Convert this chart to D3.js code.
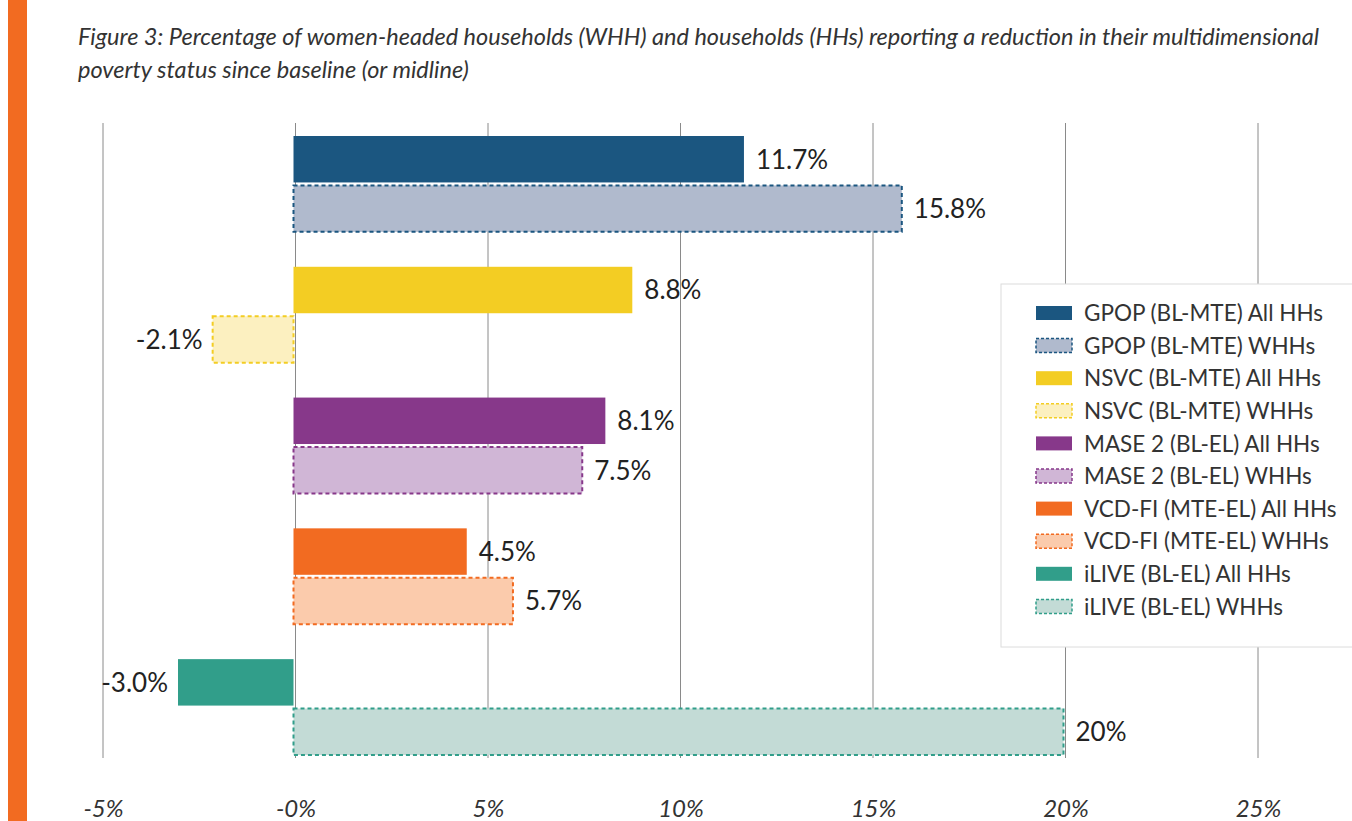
<!DOCTYPE html>
<html>
<head>
<meta charset="utf-8">
<script src="https://cdn.jsdelivr.net/npm/d3@7"></script>
<style>
  body { margin: 0; background: #fff; }
  svg { display: block; }
</style>
</head>
<body>
<svg id="vis" width="1352" height="821"></svg>
<script>
// data
const programmes = ["GPOP", "NSVC", "MASE 2", "VCD-FI", "iLIVE"];
const periods = ["(BL-MTE)", "(BL-MTE)", "(BL-EL)", "(MTE-EL)", "(BL-EL)"];
const allHHs = [11.7, 8.8, 8.1, 4.5, -3.0];
const whhs = [15.8, -2.1, 7.5, 5.7, 20];
const labelsAll = ["11.7%", "8.8%", "8.1%", "4.5%", "-3.0%"];
const labelsWhh = ["15.8%", "-2.1%", "7.5%", "5.7%", "20%"];
const darkColors = ["#1b5680", "#f3cd23", "#87388a", "#f26b21", "#319e8a"];
const lightColors = ["#b0bacd", "#fcf0c0", "#d0b6d6", "#fbcbac", "#c3dbd6"];
const ticks = [-5, 0, 5, 10, 15, 20, 25];

const svg = d3.select('#vis');
const font = "Lato, 'Open Sans', sans-serif";

// orange side strip
svg.append("rect")
    .attr("x", 8).attr("y", 0)
    .attr("width", 19).attr("height", 821)
    .attr("fill", "#f26b21");

// title
const title = svg.append("text")
    .attr("font-family", font)
    .attr("font-style", "italic")
    .attr("font-size", 23.5)
    .attr("fill", "#333");
title.append("tspan").attr("x", 78).attr("y", 45)
    .text("Figure 3: Percentage of women-headed households (WHH) and households (HHs) reporting a reduction in their multidimensional");
title.append("tspan").attr("x", 78).attr("y", 78)
    .text("poverty status since baseline (or midline)");

const x = d3.scaleLinear().domain([-5, 25]).range([103, 1258]);
const y = d3.scaleBand().domain(programmes).range([136, 755]).paddingInner(0.267).paddingOuter(0);
const yInner = d3.scaleBand().domain(["all", "whh"]).range([0, y.bandwidth()]).paddingInner(0.06);

// gridlines
svg.append("g")
    .selectAll("line")
    .data(ticks)
    .enter().append("line")
    .attr("x1", d => x(d)).attr("x2", d => x(d))
    .attr("y1", 123).attr("y2", 758)
    .attr("stroke", "#8a8a8a")
    .attr("stroke-width", 1);

// axis labels
const axis = d3.axisBottom(x)
    .tickValues(ticks)
    .tickSize(0)
    .tickFormat(d => (d === 0 ? "-0" : d) + "%");
const axisG = svg.append("g")
    .attr("transform", "translate(0,797)")
    .call(axis);
axisG.select(".domain").remove();
axisG.selectAll("text")
    .attr("font-family", font)
    .attr("font-style", "italic")
    .attr("font-size", 24)
    .attr("fill", "#333");

// bars
const rows = [];
programmes.forEach(function (p, i) {
    rows.push({prog: p, kind: "all", value: allHHs[i], label: labelsAll[i], i: i});
    rows.push({prog: p, kind: "whh", value: whhs[i], label: labelsWhh[i], i: i});
});

const bar = svg.selectAll(".bar")
    .data(rows)
    .enter().append("g")
    .attr("class", "bar");

bar.append("rect")
    .attr("x", d => x(Math.min(0, d.value)) - 2)
    .attr("y", d => y(d.prog) + yInner(d.kind))
    .attr("width", d => Math.abs(x(d.value) - x(0)))
    .attr("height", yInner.bandwidth())
    .attr("fill", d => d.kind === "all" ? darkColors[d.i] : lightColors[d.i])
    .attr("stroke", d => d.kind === "all" ? "none" : darkColors[d.i])
    .attr("stroke-width", 2)
    .attr("stroke-dasharray", "4,3");

bar.append("text")
    .attr("x", d => d.value >= 0 ? x(d.value) + 10 : x(d.value) - 12)
    .attr("y", d => y(d.prog) + yInner(d.kind) + yInner.bandwidth() / 2)
    .attr("dy", "0.36em")
    .attr("text-anchor", d => d.value >= 0 ? "start" : "end")
    .attr("font-family", font)
    .attr("font-size", 26)
    .attr("fill", "#222")
    .text(d => d.label);

// legend
const legend = svg.append("g").attr("transform", "translate(1001,284)");
legend.append("rect")
    .attr("x", 0).attr("y", 0)
    .attr("width", 360).attr("height", 363)
    .attr("fill", "#fff")
    .attr("stroke", "#dcdcdc");

const legendRows = [];
programmes.forEach(function (p, i) {
    legendRows.push({text: p + " " + periods[i] + " All HHs", kind: "all", i: i});
    legendRows.push({text: p + " " + periods[i] + " WHHs", kind: "whh", i: i});
});

const item = legend.selectAll(".item")
    .data(legendRows)
    .enter().append("g")
    .attr("class", "item")
    .attr("transform", (d, k) => "translate(0," + (29 + k * 32.6) + ")");

item.append("rect")
    .attr("x", 35).attr("y", -7)
    .attr("width", 36).attr("height", 14)
    .attr("fill", d => d.kind === "all" ? darkColors[d.i] : lightColors[d.i])
    .attr("stroke", d => d.kind === "all" ? "none" : darkColors[d.i])
    .attr("stroke-width", 1.5)
    .attr("stroke-dasharray", "3,2");

item.append("text")
    .attr("x", 83)
    .attr("y", 0)
    .attr("dy", "0.36em")
    .attr("font-family", font)
    .attr("font-size", 22.5)
    .attr("fill", "#333")
    .text(d => d.text);
</script>
</body>
</html>
